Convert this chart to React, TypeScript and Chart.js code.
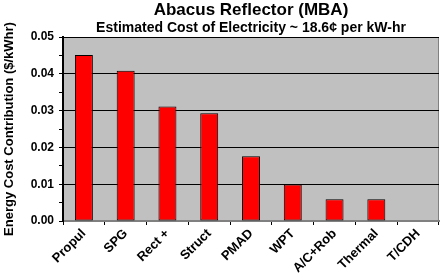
import React, { useEffect, useRef } from "react";
import { Chart, registerables } from "chart.js";

Chart.register(...registerables);

const categories = ["Propul", "SPG", "Rect +", "Struct", "PMAD", "WPT", "A/C+Rob", "Thermal", "T/CDH"];
const costValues = [0.0451, 0.0408, 0.0311, 0.0293, 0.0176, 0.0099, 0.0059, 0.0059, 0];
const yTickLabels = ["0.00", "0.01", "0.02", "0.03", "0.04", "0.05"];

const FONT = "Arial, 'Liberation Sans', sans-serif";

const plotBg = {
  id: "plotBg",
  beforeDraw(chart: any) {
    const { ctx, chartArea } = chart;
    if (!chartArea) return;
    ctx.save();
    ctx.fillStyle = "#c0c0c0";
    ctx.fillRect(chartArea.left, chartArea.top, chartArea.right - chartArea.left, chartArea.bottom - chartArea.top);
    ctx.strokeStyle = "#808080";
    ctx.lineWidth = 1;
    ctx.strokeRect(chartArea.left + 0.5, chartArea.top + 0.5, chartArea.right - chartArea.left - 1, chartArea.bottom - chartArea.top - 1);
    ctx.restore();
  },
};

export default function App() {
  const ref = useRef<HTMLCanvasElement>(null);
  useEffect(() => {
    if (!ref.current) return;
    const chart = new Chart(ref.current, {
      type: "bar",
      data: {
        labels: categories,
        datasets: [
          {
            data: costValues,
            backgroundColor: "#ff0000",
            borderColor: "#000000",
            borderWidth: 1,
            borderSkipped: false,
            barPercentage: 0.43,
            categoryPercentage: 1,
          },
        ],
      },
      plugins: [plotBg],
      options: {
        responsive: false,
        animation: false,
        layout: { padding: { left: 0, right: 2, top: 0, bottom: 0 } },
        plugins: {
          legend: { display: false },
          tooltip: { enabled: false },
          title: {
            display: true,
            text: "Abacus Reflector (MBA)",
            color: "#000",
            fullSize: false,
            font: { family: FONT, size: 17, weight: "bold", lineHeight: 1.0 },
            padding: { top: 2, bottom: 0 },
          },
          subtitle: {
            display: true,
            text: "Estimated Cost of Electricity ~ 18.6\u00a2 per kW-hr",
            color: "#000",
            fullSize: false,
            font: { family: FONT, size: 14, weight: "bold", lineHeight: 1.0 },
            padding: { top: 2, bottom: 2 },
          },
        },
        scales: {
          x: {
            grid: {
              display: true,
              drawOnChartArea: false,
              drawTicks: true,
              tickLength: 4,
              tickColor: "#000",
              offset: true,
            },
            border: { color: "#808080", width: 2 },
            ticks: {
              color: "#000",
              font: { family: FONT, size: 13, weight: "bold" },
              maxRotation: 45,
              minRotation: 45,
              autoSkip: false,
              padding: 1,
            },
            afterFit: (scale: any) => {
              scale.height = 52;
            },
          },
          y: {
            min: 0,
            max: 0.05,
            ticks: {
              stepSize: 0.005,
              color: "#000",
              font: { family: FONT, size: 12, weight: "bold" },
              padding: 5,
              callback: (v: any) => {
                const i = Math.round(Number(v) * 1000);
                if (i % 10 !== 0) return "";
                return yTickLabels[i / 10];
              },
            },
            grid: {
              color: (c: any) => {
                const i = Math.round(Number(c.tick?.value ?? 0) * 1000);
                if (i === 0) return "transparent";
                return i % 10 === 0 ? "#000" : "transparent";
              },
              tickColor: "#000",
              tickLength: 4,
              lineWidth: 1,
            },
            border: { color: "#000", width: 2 },
            title: {
              display: true,
              text: "Energy Cost Contribution ($/kWhr)",
              color: "#000",
              font: { family: FONT, size: 13, weight: "bold", lineHeight: 1.2 },
              padding: { top: 2, bottom: 0 },
            },
            afterFit: (scale: any) => {
              scale.width = 63;
            },
          },
        },
      },
    });
    return () => chart.destroy();
  }, []);
  return (
    <div style={{ position: "absolute", left: 0, top: 0, width: 441, height: 273, background: "#fff" }}>
      <canvas ref={ref} width={441} height={273} style={{ display: "block" }} />
    </div>
  );
}
